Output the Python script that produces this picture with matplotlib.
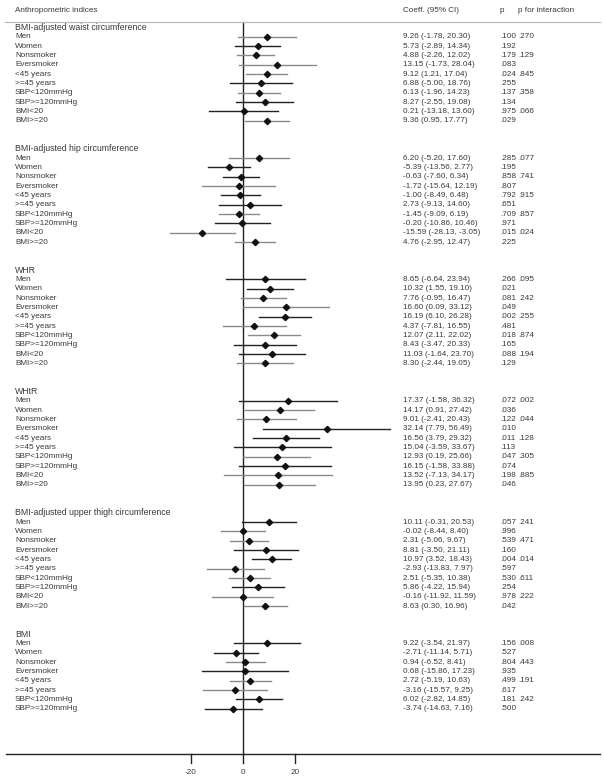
import matplotlib
matplotlib.use("Agg")
import matplotlib.pyplot as plt

plt.rcParams["font.family"] = ["Liberation Sans", "DejaVu Sans"]

subgroups = ["Men", "Women", "Nonsmoker", "Eversmoker", "<45 years", ">=45 years",
             "SBP<120mmHg", "SBP>=120mmHg", "BMI<20", "BMI>=20"]

panels = ["BMI-adjusted waist circumference", "BMI-adjusted hip circumference", "WHR",
          "WHtR", "BMI-adjusted upper thigh circumference", "BMI"]

waist_coef = [9.26, 5.73, 4.88, 13.15, 9.12, 6.88, 6.13, 8.27, 0.21, 9.36]
waist_lo = [-1.78, -2.89, -2.26, -1.73, 1.21, -5.00, -1.96, -2.55, -13.18, 0.95]
waist_hi = [20.30, 14.34, 12.02, 28.04, 17.04, 18.76, 14.23, 19.08, 13.60, 17.77]
waist_p = [".100", ".192", ".179", ".083", ".024", ".255", ".137", ".134", ".975", ".029"]
waist_pint = [".270", "", ".129", "", ".845", "", ".358", "", ".066", ""]

hip_coef = [6.20, -5.39, -0.63, -1.72, -1.00, 2.73, -1.45, -0.20, -15.59, 4.76]
hip_lo = [-5.20, -13.56, -7.60, -15.64, -8.49, -9.13, -9.09, -10.86, -28.13, -2.95]
hip_hi = [17.60, 2.77, 6.34, 12.19, 6.48, 14.60, 6.19, 10.46, -3.05, 12.47]
hip_p = [".285", ".195", ".858", ".807", ".792", ".651", ".709", ".971", ".015", ".225"]
hip_pint = [".077", "", ".741", "", ".915", "", ".857", "", ".024", ""]

whr_coef = [8.65, 10.32, 7.76, 16.60, 16.19, 4.37, 12.07, 8.43, 11.03, 8.30]
whr_lo = [-6.64, 1.55, -0.95, 0.09, 6.10, -7.81, 2.11, -3.47, -1.64, -2.44]
whr_hi = [23.94, 19.10, 16.47, 33.12, 26.28, 16.55, 22.02, 20.33, 23.70, 19.05]
whr_p = [".266", ".021", ".081", ".049", ".002", ".481", ".018", ".165", ".088", ".129"]
whr_pint = [".095", "", ".242", "", ".255", "", ".874", "", ".194", ""]

whtr_coef = [17.37, 14.17, 9.01, 32.14, 16.56, 15.04, 12.93, 16.15, 13.52, 13.95]
whtr_lo = [-1.58, 0.91, -2.41, 7.79, 3.79, -3.59, 0.19, -1.58, -7.13, 0.23]
whtr_hi = [36.32, 27.42, 20.43, 56.49, 29.32, 33.67, 25.66, 33.88, 34.17, 27.67]
whtr_p = [".072", ".036", ".122", ".010", ".011", ".113", ".047", ".074", ".198", ".046"]
whtr_pint = [".002", "", ".044", "", ".128", "", ".305", "", ".885", ""]

thigh_coef = [10.11, -0.02, 2.31, 8.81, 10.97, -2.93, 2.51, 5.86, -0.16, 8.63]
thigh_lo = [-0.31, -8.44, -5.06, -3.50, 3.52, -13.83, -5.35, -4.22, -11.92, 0.30]
thigh_hi = [20.53, 8.40, 9.67, 21.11, 18.43, 7.97, 10.38, 15.94, 11.59, 16.96]
thigh_p = [".057", ".996", ".539", ".160", ".004", ".597", ".530", ".254", ".978", ".042"]
thigh_pint = [".241", "", ".471", "", ".014", "", ".611", "", ".222", ""]

bmi_coef = [9.22, -2.71, 0.94, 0.68, 2.72, -3.16, 6.02, -3.74]
bmi_lo = [-3.54, -11.14, -6.52, -15.86, -5.19, -15.57, -2.82, -14.63]
bmi_hi = [21.97, 5.71, 8.41, 17.23, 10.63, 9.25, 14.85, 7.16]
bmi_p = [".156", ".527", ".804", ".935", ".499", ".617", ".181", ".500"]
bmi_pint = [".008", "", ".443", "", ".191", "", ".242", ""]

# 1 = grey CI line, 0 = black CI line (as drawn in the original)
grey_rows = [
    [1, 0, 1, 1, 1, 0, 1, 0, 0, 1],
    [1, 0, 0, 1, 0, 0, 1, 0, 1, 1],
    [0, 0, 1, 1, 0, 1, 1, 0, 0, 1],
    [0, 1, 1, 0, 0, 0, 1, 0, 1, 1],
    [0, 1, 1, 0, 0, 1, 1, 0, 1, 1],
    [0, 0, 1, 0, 1, 1, 0, 0],
]

xticks = [-20, 0, 20]

coefs = [waist_coef, hip_coef, whr_coef, whtr_coef, thigh_coef, bmi_coef]
los = [waist_lo, hip_lo, whr_lo, whtr_lo, thigh_lo, bmi_lo]
his = [waist_hi, hip_hi, whr_hi, whtr_hi, thigh_hi, bmi_hi]
ps = [waist_p, hip_p, whr_p, whtr_p, thigh_p, bmi_p]
pints = [waist_pint, hip_pint, whr_pint, whtr_pint, thigh_pint, bmi_pint]

W, H = 604, 781
fig = plt.figure(figsize=(W / 100, H / 100), dpi=100)
ax = fig.add_axes([0, 0, 1, 1])
ax.axis("off")

# x: 0 at 243 px, 2.6 px per unit; y: row index, row 0 at 27.4 px, 9.33 px/row
x0, ppu = 243, 2.6
ax.set_xlim(-x0 / ppu, (W - x0) / ppu)
y0, rh = 27.4, 9.333
ax.set_ylim((H - y0) / rh, -y0 / rh)
tr = ax.get_yaxis_transform()

fs_lab = 5.9
fs_head = 6.3
c_text = "#3a3a3a"
x_lab, x_coef, x_p, x_pint = 15 / W, 403 / W, 500 / W, 518 / W

def py(px):
    return (px - y0) / rh

# header
ax.text(x_lab, py(11), "Anthropometric indices", transform=tr, fontsize=fs_lab, color=c_text, va="center")
ax.text(x_coef, py(11), "Coeff. (95% CI)", transform=tr, fontsize=fs_lab, color=c_text, va="center")
ax.text(x_p, py(11), "p", transform=tr, fontsize=fs_lab, color=c_text, va="center")
ax.text(x_pint, py(11), "p for interaction", transform=tr, fontsize=fs_lab, color=c_text, va="center")
ax.plot([5 / W, 600 / W], [py(22), py(22)], transform=tr, color="#bbbbbb", lw=0.9)

row = 0
for k, name in enumerate(panels):
    ax.text(x_lab, row, name, transform=tr, fontsize=fs_head, color=c_text, va="center")
    row += 1
    for j in range(len(coefs[k])):
        col = "#8a8a8a" if grey_rows[k][j] else "#222222"
        ax.plot([los[k][j], his[k][j]], [row, row], color=col, lw=1.0, zorder=2)
        ax.plot(coefs[k][j], row, marker="D", ms=3.2, color="#111111", zorder=3)
        ax.text(x_lab, row, subgroups[j], transform=tr, fontsize=fs_lab, color=c_text, va="center")
        txt = f"{coefs[k][j]:.2f} ({los[k][j]:.2f}, {his[k][j]:.2f})"
        ax.text(x_coef, row, txt, transform=tr, fontsize=fs_lab, color=c_text, va="center")
        ax.text(x_p, row, ps[k][j], transform=tr, fontsize=fs_lab, color=c_text, va="center")
        ax.text(x_pint, row, pints[k][j], transform=tr, fontsize=fs_lab, color=c_text, va="center")
        row += 1
    row += 2

# zero line and bottom axis
ax.plot([0, 0], [py(22), py(754)], color="#222222", lw=1.0, zorder=1)
ax.plot([6 / W, 600 / W], [py(754), py(754)], transform=tr, color="#222222", lw=1.0)
for t in xticks:
    ax.plot([t, t], [py(754), py(763)], color="#222222", lw=1.0)
    ax.text(t, py(772), str(t), fontsize=fs_lab, color=c_text, ha="center", va="center")

fig.savefig("out.png", dpi=100)
